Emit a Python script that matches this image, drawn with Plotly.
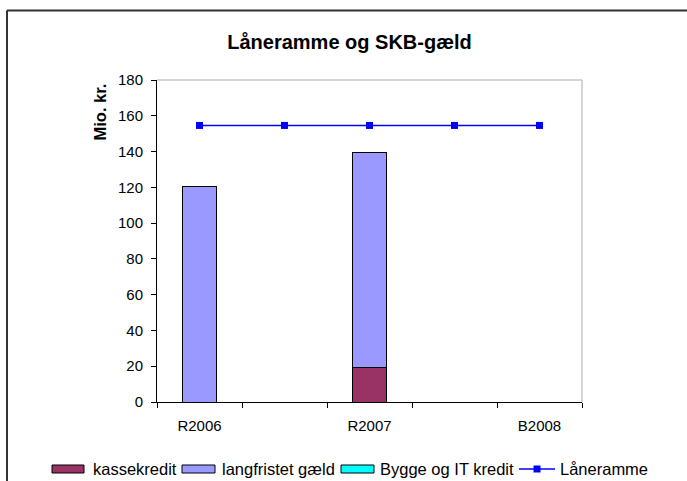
import plotly.graph_objects as go

categories = ["R2006", " ", "R2007", "  ", "B2008"]
kassekredit = [None, None, 19.2, None, None]
langfristet = [120.2, None, 120.1, None, None]
bygge_it = [None, None, None, None, None]
laaneramme = [154.6, 154.6, 154.6, 154.6, 154.6]
y_ticks = [0, 20, 40, 60, 80, 100, 120, 140, 160, 180]

series_names = ["kassekredit", "langfristet gæld", "Bygge og IT kredit", "Låneramme"]
series_colors = ["#993366", "#9999FF", "#00FFFF", "#0000FF"]

W, H = 687, 481
L, R, T, B = 157, 582, 80, 402

def px(x):
    return (x - L) / (R - L)

def py(y):
    return (B - y) / (B - T)

FONT = "Liberation Sans, Arial, sans-serif"

fig = go.Figure()
for name, vals, col in zip(series_names[:3], [kassekredit, langfristet, bygge_it], series_colors[:3]):
    fig.add_trace(go.Bar(x=categories, y=vals, name=name, showlegend=False,
                         marker=dict(color=col, line=dict(color="black", width=1))))
fig.add_trace(go.Scatter(x=categories, y=laaneramme, name=series_names[3], mode="lines+markers",
                         showlegend=False,
                         line=dict(color=series_colors[3], width=1.5),
                         marker=dict(symbol="square", size=7, color=series_colors[3])))

shapes = [
    dict(type="line", xref="paper", yref="paper", x0=0, x1=1, y0=1, y1=1,
         line=dict(color="#C8C8C8", width=1.5)),
    dict(type="line", xref="paper", yref="paper", x0=1, x1=1, y0=0, y1=1,
         line=dict(color="#C8C8C8", width=1.5)),
    dict(type="line", xref="paper", yref="paper", x0=px(7), x1=px(690), y0=py(10.5), y1=py(10.5),
         line=dict(color="#333333", width=2)),
    dict(type="line", xref="paper", yref="paper", x0=px(7), x1=px(7), y0=py(10.5), y1=py(490),
         line=dict(color="#333333", width=2)),
]
annotations = [
    dict(text="<b>Mio. kr.</b>", xref="paper", yref="paper", x=px(99), y=py(112.5),
         xanchor="center", yanchor="middle", textangle=-90, showarrow=False,
         font=dict(family=FONT, size=16.5, color="black")),
]

# legend row (manual, to match the wide flat swatches of the original)
leg_y = 469
swatch_x = [(52, 84), (182, 215), (341, 374)]
text_x = [91, 220, 378, 558]
for (x0, x1), col in zip(swatch_x, series_colors[:3]):
    shapes.append(dict(type="rect", xref="paper", yref="paper", x0=px(x0), x1=px(x1),
                       y0=py(leg_y + 4), y1=py(leg_y - 4), fillcolor=col,
                       line=dict(color="black", width=1)))
shapes.append(dict(type="line", xref="paper", yref="paper", x0=px(519), x1=px(555),
                   y0=py(leg_y), y1=py(leg_y), line=dict(color=series_colors[3], width=1.5)))
shapes.append(dict(type="rect", xref="paper", yref="paper", x0=px(533.5), x1=px(540.5),
                   y0=py(leg_y + 3.5), y1=py(leg_y - 3.5), fillcolor=series_colors[3],
                   line=dict(color=series_colors[3], width=0)))
for name, tx in zip(series_names, text_x):
    annotations.append(dict(text=name, xref="paper", yref="paper", x=px(tx), y=py(leg_y),
                            xanchor="left", yanchor="middle", showarrow=False,
                            font=dict(family=FONT, size=16.5, color="black")))

fig.update_layout(
    width=W, height=H,
    margin=dict(l=L, r=W - R, t=T, b=H - B, autoexpand=False),
    paper_bgcolor="white", plot_bgcolor="white",
    barmode="stack", bargap=0.6,
    font=dict(family=FONT, size=15, color="black"),
    title=dict(text="<b>Låneramme og SKB-gæld</b>", x=349.5 / W, xref="container", xanchor="center",
               y=1 - 42 / H, yref="container", yanchor="middle",
               font=dict(family=FONT, size=20, color="black")),
    showlegend=False,
    xaxis=dict(type="category", tickson="boundaries", ticks="outside", ticklen=5,
               tickcolor="black", showline=True, linecolor="black", linewidth=1,
               showgrid=False, tickfont=dict(size=15), ticklabelstandoff=10,
               range=[-0.5, 4.5]),
    yaxis=dict(range=[0, 180], tickvals=y_ticks, ticks="outside", ticklen=5,
               tickcolor="black", showline=True, linecolor="black", linewidth=1,
               showgrid=False, zeroline=False, tickfont=dict(size=15), ticklabelstandoff=5),
    shapes=shapes,
    annotations=annotations,
)

fig.write_html("out.html", config={"displayModeBar": False},
               post_script="document.body.style.margin='0';")
